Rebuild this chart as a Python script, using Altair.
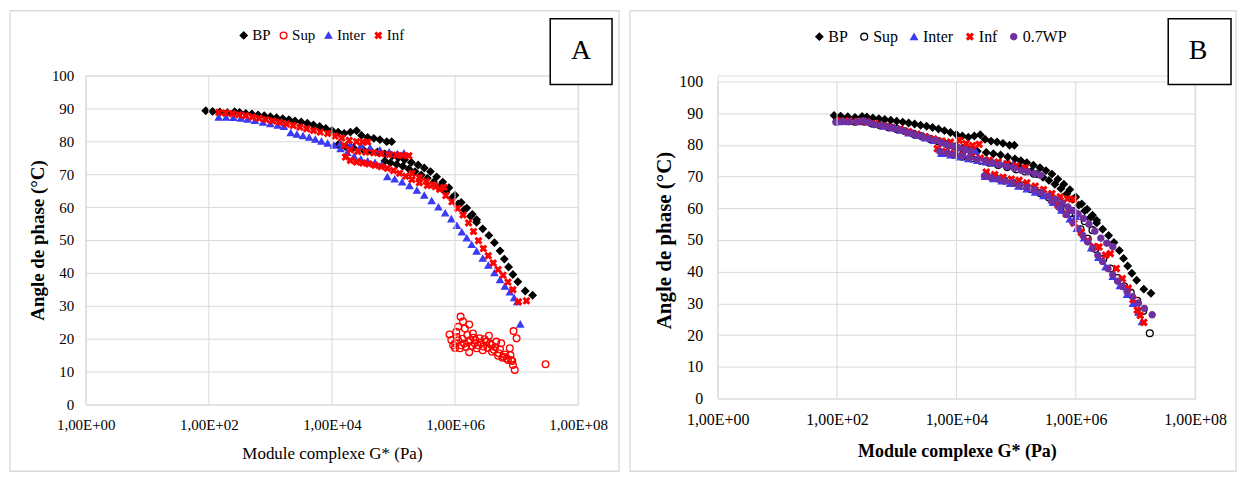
import altair as alt
import pandas as pd

FONT = "Liberation Serif"
XPATH = "M-1,-0.6L-0.6,-1L0,-0.4L0.6,-1L1,-0.6L0.4,0L1,0.6L0.6,1L0,0.4L-0.6,1L-1,0.6L-0.4,0Z"

# x = log10(G* / Pa), y = phase angle
BP = [
    (1.95, 89.3), (2.06, 89.1), (2.18, 88.9), (2.30, 88.7), (2.42, 89.0), (2.50, 88.8), (2.60, 88.5),
    (2.70, 88.3), (2.80, 88.0), (2.90, 87.8), (3.00, 87.5), (3.10, 87.2), (3.20, 86.9), (3.30, 86.6),
    (3.40, 86.2), (3.50, 85.9), (3.60, 85.5), (3.70, 85.0), (3.80, 84.5), (3.90, 83.9), (4.00, 83.3),
    (4.10, 82.8), (4.20, 82.4), (4.30, 82.8), (4.40, 83.2), (4.48, 81.8), (4.58, 81.2), (4.68, 80.9),
    (4.78, 80.5), (4.89, 79.9), (4.97, 79.9),
    (4.10, 79.0), (4.22, 78.4), (4.35, 78.0), (4.50, 77.6), (4.62, 77.2), (4.74, 76.8), (4.86, 76.2),
    (4.98, 75.6), (5.08, 75.0), (5.18, 74.4), (5.29, 73.6), (5.40, 72.8), (5.50, 71.9), (5.60, 70.8),
    (5.70, 69.2), (5.80, 67.6), (5.90, 65.9), (6.00, 63.6), (6.10, 61.4), (6.19, 59.7), (6.28, 57.8),
    (6.35, 56.2),
    (4.86, 74.0), (4.95, 73.5), (5.05, 73.0), (5.15, 72.4), (5.25, 71.6), (5.35, 70.8), (5.45, 69.8),
    (5.55, 68.8), (5.65, 67.6), (5.75, 66.2), (5.85, 64.6), (5.95, 62.8), (6.05, 61.0), (6.15, 59.2),
    (6.25, 57.2), (6.35, 55.4), (6.45, 53.4), (6.55, 51.4), (6.64, 49.2), (6.73, 46.7), (6.80, 44.2),
    (6.87, 41.8), (6.94, 39.5), (7.02, 37.3), (7.14, 34.5), (7.26, 33.2),
]

A_SUP = [
    (5.91, 21.3), (5.94, 19.6), (5.97, 18.0), (6.00, 18.6), (6.00, 17.2), (6.02, 22.1), (6.03, 20.5),
    (6.05, 23.6), (6.05, 19.5), (6.08, 17.1), (6.09, 26.7), (6.10, 18.0), (6.12, 20.0), (6.13, 25.2),
    (6.15, 18.5), (6.16, 23.1), (6.18, 17.5), (6.20, 21.1), (6.22, 19.0), (6.23, 24.3), (6.23, 15.9),
    (6.25, 19.6), (6.27, 17.8), (6.29, 21.6), (6.30, 20.3), (6.32, 18.6), (6.33, 19.5), (6.35, 17.1),
    (6.37, 18.0), (6.40, 20.1), (6.42, 18.8), (6.45, 16.5), (6.46, 17.6), (6.48, 19.8), (6.51, 19.1),
    (6.53, 17.2), (6.55, 20.9), (6.57, 18.5), (6.59, 18.1), (6.60, 16.0), (6.63, 16.6), (6.65, 17.5),
    (6.67, 19.1), (6.70, 14.8), (6.71, 15.6), (6.73, 16.8), (6.75, 18.6), (6.77, 14.2), (6.79, 14.5),
    (6.81, 15.2), (6.84, 14.0), (6.86, 13.5), (6.89, 17.1), (6.90, 15.0), (6.91, 13.5), (6.93, 13.2),
    (6.94, 12.0), (6.95, 22.3), (6.97, 10.5), (7.00, 20.1), (7.47, 12.2),
]

A_INTER = [
    (2.16, 87.3), (2.28, 87.3), (2.40, 87.2), (2.52, 87.0), (2.63, 86.7), (2.75, 86.3), (2.88, 85.8),
    (3.00, 85.3), (3.12, 84.9), (3.22, 84.5),
    (3.33, 82.6), (3.43, 82.1), (3.53, 81.7), (3.63, 81.2), (3.73, 80.6), (3.83, 80.0), (3.93, 79.4),
    (4.03, 78.8), (4.14, 77.7), (4.25, 76.6), (4.36, 75.4), (4.47, 74.6), (4.58, 74.0), (4.70, 73.5),
    (4.81, 72.9),
    (4.14, 79.4), (4.30, 79.0), (4.47, 78.6), (4.62, 78.0), (4.78, 77.3), (4.93, 76.7), (5.06, 76.2),
    (5.17, 76.4),
    (4.90, 69.2), (5.02, 68.5), (5.14, 67.6), (5.26, 66.5), (5.38, 65.1), (5.50, 63.6), (5.62, 61.9),
    (5.73, 60.0), (5.84, 58.2), (5.94, 56.4), (6.03, 54.4), (6.11, 52.4), (6.19, 50.6), (6.27, 48.6),
    (6.35, 46.6), (6.45, 44.4), (6.54, 42.3), (6.64, 40.0), (6.73, 37.9), (6.81, 35.9), (6.89, 34.2),
    (6.96, 32.4), (7.01, 31.2), (7.06, 24.4),
]

A_INF = [
    (2.16, 88.8), (2.27, 88.6), (2.38, 88.4), (2.49, 88.1), (2.60, 87.8), (2.71, 87.4), (2.82, 87.0),
    (2.93, 86.6), (3.04, 86.2), (3.15, 85.8), (3.26, 85.3), (3.37, 84.8), (3.48, 84.3), (3.59, 83.8),
    (3.70, 83.3), (3.81, 82.8), (3.93, 82.4), (4.05, 81.6), (4.16, 81.0), (4.28, 80.3), (4.40, 79.9),
    (4.50, 79.8), (4.58, 79.8),
    (4.20, 78.7), (4.30, 77.4), (4.42, 76.9), (4.55, 76.7), (4.68, 76.5), (4.80, 76.2), (4.93, 76.0),
    (5.05, 75.8), (5.15, 75.7), (5.25, 75.6),
    (4.22, 75.2), (4.30, 74.2), (4.40, 73.7), (4.50, 73.4), (4.60, 73.1), (4.70, 72.7), (4.80, 72.3),
    (4.90, 71.8), (5.00, 71.1), (5.10, 70.3), (5.20, 69.4), (5.30, 68.4), (5.42, 67.4), (5.55, 66.6),
    (5.68, 66.2), (5.82, 66.0),
    (5.30, 70.2), (5.42, 69.0), (5.53, 67.9), (5.64, 66.8), (5.75, 65.4), (5.85, 63.5), (5.95, 61.6),
    (6.04, 59.6), (6.13, 57.6), (6.22, 55.2), (6.30, 52.6), (6.38, 49.8), (6.46, 47.4), (6.54, 45.2),
    (6.62, 43.0), (6.70, 41.0), (6.78, 39.3), (6.86, 37.2), (6.94, 34.9), (7.03, 31.2), (7.16, 31.5),
]

B_SUP = [
    (2.00, 87.4), (2.15, 87.5), (2.30, 87.3), (2.45, 87.4), (2.58, 86.8), (2.72, 86.2), (2.86, 85.6),
    (3.00, 85.0), (3.14, 84.3), (3.28, 83.5), (3.42, 82.7), (3.56, 81.9), (3.70, 81.1), (3.84, 80.3),
    (3.98, 79.5), (4.12, 78.7), (4.26, 78.0),
    (3.80, 77.5), (3.95, 76.9), (4.10, 76.3), (4.25, 75.7), (4.40, 75.0), (4.55, 74.4), (4.70, 73.7),
    (4.85, 73.0), (5.00, 72.3), (5.15, 71.6), (5.30, 70.9),
    (4.50, 70.3), (4.65, 69.6), (4.80, 68.8), (4.95, 68.0), (5.10, 67.1), (5.25, 66.0), (5.40, 64.8),
    (5.55, 63.4), (5.70, 61.8), (5.85, 60.0), (6.00, 58.1), (6.15, 55.9), (6.28, 53.1),
    (5.65, 62.0), (5.80, 59.5), (5.95, 56.5), (6.08, 53.4), (6.20, 50.4), (6.33, 47.2), (6.46, 44.0),
    (6.58, 41.0), (6.70, 38.0), (6.81, 35.4), (6.92, 33.4), (7.03, 30.8), (7.13, 27.6), (7.24, 20.6),
]

B_INTER = [
    (2.02, 87.3), (2.18, 87.4), (2.34, 87.3), (2.50, 87.2), (2.64, 86.5), (2.78, 85.9), (2.92, 85.3),
    (3.06, 84.6), (3.20, 83.8), (3.34, 83.0), (3.48, 82.2), (3.62, 81.4), (3.76, 80.6), (3.90, 79.8),
    (4.04, 79.1), (4.18, 78.5), (4.32, 78.0),
    (3.75, 77.3), (3.90, 76.8), (4.05, 76.2), (4.20, 75.6), (4.35, 75.1), (4.50, 74.6), (4.65, 74.2),
    (4.80, 74.0), (4.95, 73.8),
    (4.48, 70.0), (4.62, 69.3), (4.76, 68.6), (4.90, 67.8), (5.04, 67.0), (5.18, 66.1), (5.32, 65.1),
    (5.46, 64.0), (5.60, 62.6), (5.74, 61.0), (5.88, 59.3), (6.00, 57.4),
    (5.62, 61.8), (5.76, 59.4), (5.90, 56.6), (6.02, 53.6), (6.14, 50.6), (6.26, 47.5), (6.38, 44.5),
    (6.50, 41.5), (6.62, 38.5), (6.74, 35.6), (6.86, 32.8), (6.96, 30.0), (7.05, 27.2), (7.11, 24.2),
]

B_INF = [
    (2.05, 87.6), (2.20, 87.6), (2.35, 87.4), (2.50, 87.3), (2.64, 86.7), (2.78, 86.1), (2.92, 85.5),
    (3.06, 84.9), (3.20, 84.2), (3.34, 83.4), (3.48, 82.6), (3.62, 81.9), (3.76, 81.2), (3.90, 80.9),
    (4.05, 81.4), (4.16, 80.4), (4.27, 79.8), (4.38, 80.2),
    (3.68, 78.8), (3.82, 78.0), (3.96, 77.3), (4.10, 76.8), (4.25, 76.3), (4.40, 75.8), (4.55, 75.2),
    (4.70, 74.6), (4.85, 74.0), (5.00, 73.4), (5.15, 72.8),
    (4.50, 71.4), (4.64, 70.6), (4.78, 69.8), (4.92, 69.2), (5.05, 68.8), (5.18, 68.0), (5.32, 67.0),
    (5.46, 65.9), (5.60, 64.6), (5.74, 63.6), (5.86, 63.0), (5.96, 62.8),
    (5.70, 61.0), (5.84, 58.2), (5.97, 55.3), (6.09, 52.4), (6.20, 49.8), (6.30, 47.9), (6.39, 47.8),
    (6.50, 45.2), (6.58, 45.7), (6.68, 41.0), (6.78, 37.8), (6.88, 34.8), (6.96, 31.2), (7.03, 27.9),
    (7.08, 26.2), (7.14, 24.0),
]

B_WP = [
    (1.98, 87.2), (2.09, 87.4), (2.20, 87.3), (2.32, 87.3), (2.44, 87.6), (2.54, 87.0), (2.64, 86.4),
    (2.74, 86.1), (2.84, 85.8), (2.94, 85.4), (3.04, 84.9), (3.14, 84.3), (3.24, 83.7), (3.34, 83.1),
    (3.44, 82.6), (3.54, 82.0), (3.64, 81.4), (3.74, 80.8), (3.84, 80.2), (3.94, 79.6), (4.04, 79.1),
    (4.14, 78.6), (4.24, 78.2),
    (3.72, 78.0), (3.85, 77.5), (3.98, 77.0), (4.10, 76.5), (4.22, 76.0), (4.35, 75.5), (4.48, 75.0),
    (4.60, 74.4), (4.72, 73.8), (4.85, 73.2), (4.97, 72.6), (5.09, 72.0), (5.20, 71.5), (5.31, 71.0),
    (5.41, 70.4),
    (4.47, 70.2), (4.58, 69.7), (4.70, 69.2), (4.82, 68.6), (4.94, 68.0), (5.06, 67.3), (5.18, 66.6),
    (5.30, 65.8), (5.42, 64.9), (5.54, 63.9), (5.66, 62.8), (5.77, 61.6), (5.87, 60.4), (5.96, 59.3),
    (6.04, 58.2), (6.13, 56.8), (6.22, 55.0), (6.32, 52.8), (6.42, 50.6), (6.52, 49.0), (6.62, 47.9),
    (5.60, 62.3), (5.72, 60.3), (5.84, 58.0), (5.95, 55.6), (6.04, 53.5), (6.12, 51.4), (6.20, 49.4),
    (6.28, 47.4), (6.37, 45.2), (6.45, 43.2), (6.54, 41.0), (6.62, 39.0), (6.70, 37.0), (6.78, 35.3),
    (6.86, 33.7), (6.95, 32.1), (7.05, 30.1), (7.15, 28.4), (7.28, 26.4),
]

A_SERIES = ["BP", "Sup", "Inter", "Inf"]
B_SERIES = ["BP", "Sup", "Inter", "Inf", "0.7WP"]
X_TICKS = [0, 2, 4, 6, 8]
Y_TICKS = [0, 10, 20, 30, 40, 50, 60, 70, 80, 90, 100]

BLACK = "#000000"
RED = "#ff0000"
BLUE = "#3b3bf5"
PURPLE = "#7030a0"


def frame_df(series_names, series_points):
    rows = []
    for name, pts in zip(series_names, series_points):
        for lg, ang in pts:
            rows.append({"series": name, "logG": lg, "angle": ang})
    return pd.DataFrame(rows)


ONE = pd.DataFrame({"k": [0]})
XGRID = pd.DataFrame({"logG": X_TICKS})


def make_panel(df, order, shapes, fills, strokes, sizes, width, height, top, frame, box,
               letter, letter_xy, legend_xy, tick_size, legend_size, col_pad, label_off,
               x_title_size, x_title_weight, x_title_xy, y_title_size, y_title_xy,
               y_label_pad):
    axis_common = dict(gridColor="#d9d9d9", gridWidth=1, domain=False, ticks=False,
                       labelFont=FONT, labelFontSize=tick_size, labelColor="#000000",
                       titleFont=FONT, titleColor="#000000", labelFlush=False,
                       labelOverlap=False)
    leg = alt.Legend(orient="none", legendX=legend_xy[0], legendY=legend_xy[1],
                     direction="horizontal", title=None, labelFont=FONT,
                     labelFontSize=legend_size, labelColor="#000000", symbolStrokeWidth=1.3,
                     columnPadding=col_pad, labelOffset=label_off, padding=0, symbolOpacity=1)
    x_enc = alt.X("logG:Q", scale=alt.Scale(domain=[0, 8], nice=False, zero=False),
                  axis=alt.Axis(values=X_TICKS, labelExpr="'1,00E+0' + datum.value",
                                title="Module complexe G* (Pa)", labelPadding=13, grid=False,
                                titleFontSize=x_title_size, titleFontWeight=x_title_weight,
                                titleX=x_title_xy[0], titleY=x_title_xy[1],
                                titleBaseline="middle", titleAlign="center", **axis_common))
    y_scale = alt.Scale(domain=[0, 100], nice=False, range=[height, top])
    y_axis = alt.Axis(values=Y_TICKS, title="Angle de phase (°C)", grid=True, tickCount=11,
                      labelPadding=y_label_pad, titleFontSize=y_title_size,
                      titleFontWeight="bold", titleX=y_title_xy[0], titleY=y_title_xy[1],
                      titleAngle=270, titleBaseline="middle", titleAlign="center",
                      **axis_common)
    pts = alt.Chart(df).mark_point(opacity=1, strokeWidth=1.3).encode(
        x=x_enc,
        y=alt.Y("angle:Q", scale=y_scale, axis=y_axis),
        shape=alt.Shape("series:N", scale=alt.Scale(domain=order, range=shapes), legend=leg),
        fill=alt.Fill("series:N", scale=alt.Scale(domain=order, range=fills), legend=leg),
        stroke=alt.Stroke("series:N", scale=alt.Scale(domain=order, range=strokes), legend=leg),
        size=alt.Size("series:N", scale=alt.Scale(domain=order, range=sizes), legend=leg),
    )
    vgrid = alt.Chart(XGRID).mark_rule(color="#d9d9d9", strokeWidth=1).encode(
        x=x_enc, y=alt.Y(datum=0, scale=y_scale, axis=y_axis), y2=alt.Y2(datum=100))
    fr = alt.Chart(ONE).mark_rect(filled=False, stroke="#d9d9d9", strokeWidth=1.3).encode(
        x=alt.value(frame[0]), x2=alt.value(frame[1]), y=alt.value(frame[2]), y2=alt.value(frame[3]))
    bx = alt.Chart(ONE).mark_rect(fill="#ffffff", stroke="#000000", strokeWidth=1.5).encode(
        x=alt.value(box[0]), x2=alt.value(box[1]), y=alt.value(box[2]), y2=alt.value(box[3]))
    tx = alt.Chart(ONE).mark_text(text=letter, font=FONT, fontSize=28, align="center",
                                  baseline="middle", color="#000000").encode(
        x=alt.value(letter_xy[0]), y=alt.value(letter_xy[1]))
    return alt.layer(fr, pts, vgrid, bx, tx).properties(width=width, height=height)


dfA = frame_df(A_SERIES, [BP, A_SUP, A_INTER, A_INF])
dfB = frame_df(B_SERIES, [BP, B_SUP, B_INTER, B_INF, B_WP])

panelA = make_panel(
    dfA, A_SERIES,
    shapes=["diamond", "circle", "triangle-up", XPATH],
    fills=[BLACK, "transparent", BLUE, RED],
    strokes=[BLACK, RED, BLUE, RED],
    sizes=[50, 38, 42, 42],
    width=494, height=330, top=0,
    frame=(-76, 535, -65, 397), box=(466, 528, -57, 9),
    letter="A", letter_xy=(497, -25), legend_xy=(151, -48),
    tick_size=15, legend_size=15, col_pad=5, label_off=1,
    x_title_size=17, x_title_weight="normal", x_title_xy=(247, 49),
    y_title_size=19, y_title_xy=(-48, 165), y_label_pad=12,
)

panelB = make_panel(
    dfB, B_SERIES,
    shapes=["diamond", "circle", "triangle-up", XPATH, "circle"],
    fills=[BLACK, "transparent", BLUE, RED, PURPLE],
    strokes=[BLACK, BLACK, BLUE, RED, PURPLE],
    sizes=[50, 38, 42, 42, 110],
    width=479, height=324, top=6,
    frame=(-88, 520, -65, 397), box=(452, 515, -57, 9),
    letter="B", letter_xy=(482, -25), legend_xy=(94, -47),
    tick_size=16, legend_size=16, col_pad=8, label_off=1,
    x_title_size=18, x_title_weight="bold", x_title_xy=(240, 53),
    y_title_size=21, y_title_xy=(-53, 165), y_label_pad=15,
)

chart = alt.hconcat(panelA, panelB, spacing=7).resolve_scale(
    shape="independent", fill="independent", stroke="independent", size="independent",
    x="independent", y="independent").resolve_legend(
    shape="independent", fill="independent", stroke="independent", size="independent"
).properties(padding=0).configure_view(strokeWidth=0).configure(background="#ffffff")

chart.save("out.html", embed_options={"renderer": "svg", "actions": False})
